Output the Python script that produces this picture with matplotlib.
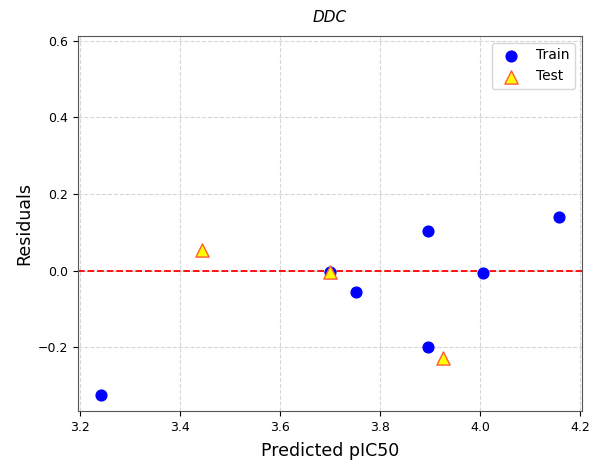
import matplotlib
matplotlib.use("Agg")
import matplotlib.pyplot as plt

# residual data
train_pred = [3.242, 3.700, 3.752, 3.895, 3.895, 4.005, 4.158]
train_resid = [-0.324, -0.003, -0.055, 0.104, -0.198, -0.005, 0.141]
test_pred = [3.443, 3.700, 3.925]
test_resid = [0.055, -0.003, -0.227]

fig, ax = plt.subplots(figsize=(5.91, 4.65), dpi=100)
fig.subplots_adjust(left=0.132, right=0.985, top=0.923, bottom=0.116)

ax.scatter(train_pred, train_resid, c='blue', s=60, label='Train', zorder=3)
ax.scatter(test_pred, test_resid, c='yellow', edgecolors='#ff5a36', marker='^',
           s=90, linewidths=1, label='Test', zorder=4)
ax.axhline(0, color='red', linestyle='--', linewidth=1.3, zorder=2)

ax.set_xlim(3.196, 4.204)
ax.set_ylim(-0.366, 0.613)
ax.set_xticks([3.2, 3.4, 3.6, 3.8, 4.0, 4.2])
ax.set_yticks([-0.2, 0.0, 0.2, 0.4, 0.6])
ax.tick_params(labelsize=9)
ax.grid(True, linestyle='--', color='#cccccc', alpha=0.8, linewidth=0.8)
for sp in ax.spines.values():
    sp.set_color('#555555')

ax.set_title('DDC', fontstyle='italic', fontsize=11, pad=10)
ax.set_xlabel('Predicted pIC50', fontsize=12.5, labelpad=6)
ax.set_ylabel('Residuals', fontsize=12.5, labelpad=3)
ax.legend(loc='upper right', fontsize=10)

fig.savefig('out.png', dpi=100)
